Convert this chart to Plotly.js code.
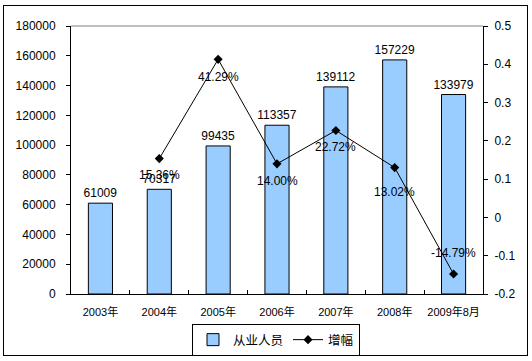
<!DOCTYPE html>
<html><head><meta charset="utf-8">
<script src="https://cdn.plot.ly/plotly-3.0.1.min.js"></script>
<style>
html,body{margin:0;padding:0;background:#fff;}
#wrap{position:relative;width:532px;height:361px;}
#chart{width:532px;height:361px;}
#frame{position:absolute;left:3px;top:5px;width:523px;height:349px;border:1.5px solid #000;pointer-events:none;}
</style></head>
<body><div id="wrap"><div id="chart"></div><div id="frame"></div></div>
<script>
const categories = ['2003年','2004年','2005年','2006年','2007年','2008年','2009年8月'];
const employees = [61009, 70317, 99435, 113357, 139112, 157229, 133979];
const growthCats = ['2004年','2005年','2006年','2007年','2008年','2009年8月'];
const growth = [0.1536, 0.4129, 0.1400, 0.2272, 0.1302, -0.1479];
const y1TickVals = [0,20000,40000,60000,80000,100000,120000,140000,160000,180000];
const y1TickText = ['0','20000','40000','60000','80000','100000','120000','140000','160000','180000'];
const y2TickVals = [-0.2,-0.1,0,0.1,0.2,0.3,0.4,0.5];
const y2TickText = ['-0.2','-0.1','0','0.1','0.2','0.3','0.4','0.5'];
const labelShift = [-16, -18, -17, -17, -24, 21];

const font = "Arial, 'Liberation Sans', 'Noto Sans CJK SC', sans-serif";

const traces = [
  {type:'bar', name:'从业人员', x:categories, y:employees,
   marker:{color:'#99CCFF', line:{color:'#000', width:1}},
   width:0.41, text:employees.map(String), textposition:'outside', constraintext:'none',
   textfont:{family:font,size:12,color:'#000'}, cliponaxis:false, hoverinfo:'none'},
  {type:'scatter', mode:'lines+markers', name:'增幅', x:growthCats, y:growth, yaxis:'y2',
   line:{color:'#000', width:1}, marker:{symbol:'diamond', size:7, color:'#000'},
   cliponaxis:false, hoverinfo:'none'}
];

const annotations = growthCats.map((c,i)=>({
  x:c, y:growth[i], xref:'x', yref:'y2',
  text:(growth[i]*100).toFixed(2)+'%', showarrow:false,
  yshift:labelShift[i], font:{family:font,size:12,color:'#000'}
}));

const layout = {
  width:532, height:361,
  margin:{l:71, r:49, t:26, b:67, autoexpand:false},
  paper_bgcolor:'#fff', plot_bgcolor:'#fff',
  showlegend:true, bargap:0.59,
  font:{family:font, size:12, color:'#000'},
  xaxis:{type:'category', showline:true, linecolor:'#000', linewidth:1, tickangle:0, automargin:false,
         ticks:'inside', ticklen:4, tickcolor:'#000', tickson:'boundaries',
         tickfont:{family:font,size:11,color:'#000'}, showgrid:false, zeroline:false,
         ticklabelstandoff:8},
  yaxis:{range:[0,180000], tickvals:y1TickVals, ticktext:y1TickText, showline:true, linecolor:'#000', linewidth:1,
         ticks:'outside', ticklen:4, tickcolor:'#000', showgrid:false, zeroline:false, automargin:false,
         tickfont:{family:font,size:12,color:'#000'}, ticklabelstandoff:8},
  yaxis2:{overlaying:'y', side:'right', range:[-0.2,0.5], tickvals:y2TickVals, ticktext:y2TickText,
          showline:true, linecolor:'#000', linewidth:1, ticks:'outside', ticklen:4, tickcolor:'#000',
          showgrid:false, zeroline:false, tickfont:{family:font,size:12,color:'#000'}, automargin:false,
          ticklabelstandoff:4},
  legend:{orientation:'h', x:0.4976, xanchor:'center', y:-0.112, yanchor:'top',
          bordercolor:'#000', borderwidth:1, bgcolor:'#fff',
          font:{family:font,size:12.5,color:'#000'}, traceorder:'normal',
          itemwidth:30},
  shapes:[{type:'line', xref:'paper', yref:'paper', x0:0, x1:1, y0:1, y1:1,
           line:{color:'#808080', width:1}}],
  annotations:annotations
};

Plotly.newPlot('chart', traces, layout, {staticPlot:true, displayModeBar:false});
</script></body></html>
